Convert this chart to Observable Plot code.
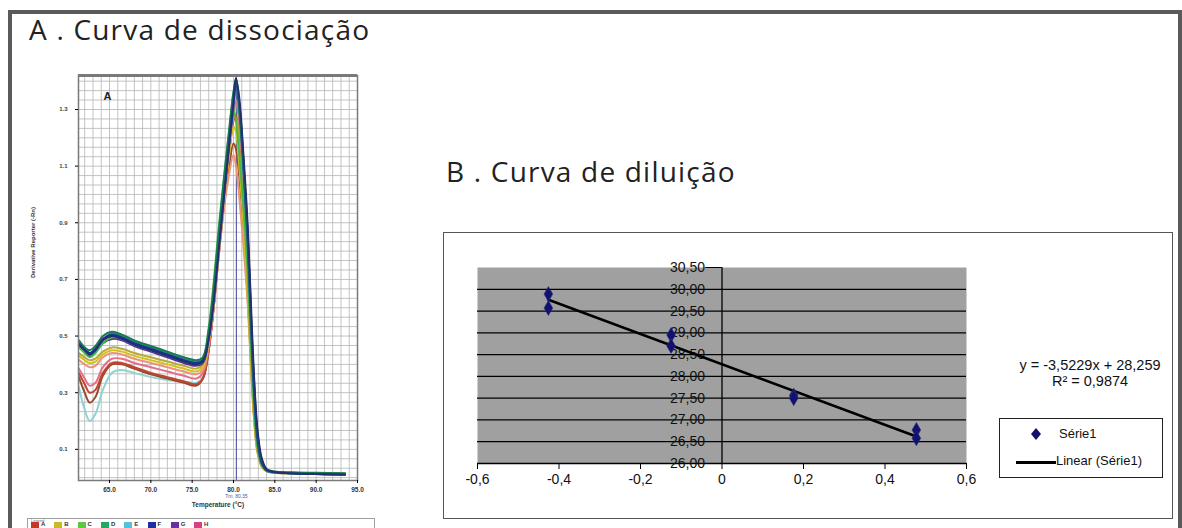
<!DOCTYPE html>
<html><head><meta charset="utf-8">
<script src="https://cdn.jsdelivr.net/npm/d3@7"></script>
<script src="https://cdn.jsdelivr.net/npm/@observablehq/plot@0.6"></script>
<style>
body{margin:0;background:#fff;}
#root{position:relative;width:1182px;height:528px;overflow:hidden;background:#fff;font-family:"Liberation Sans",Arial,sans-serif;}
.abs{position:absolute;}
.title{font-family:"Open Sans",sans-serif;font-size:28px;letter-spacing:1.2px;color:#222;white-space:nowrap;line-height:1;}
</style></head><body><div id="root"></div>
<script>
// ---------- Panel A: dissociation curve data ----------
const titleA = "A . Curva de dissociação";
const titleB = "B . Curva de diluição";
const temps = [61.3, 62.0, 62.6, 63.3, 64.2, 65.3, 66.5, 68, 70, 72, 74, 75.5, 76.3, 77, 77.6, 78.2, 78.8, 79.4, 80.0, 80.3, 80.7, 81.2, 81.7, 82.1, 82.5, 82.9, 83.4, 84, 85, 87, 90, 93.5];
const curveE2 = [0.32,0.24,0.20,0.225,0.31,0.37,0.38,0.37,0.355,0.345,0.34,0.335,0.355, 0.45,0.60,0.79,0.97,1.14,1.29,1.33,1.25,1.05,0.80,0.52,0.27,0.12,0.05,0.025,0.018,0.015,0.013,0.012];
const curveA1 = [0.355,0.30,0.265,0.285,0.36,0.40,0.40,0.385,0.365,0.35,0.335,0.325,0.35, 0.45,0.60,0.78,0.95,1.08,1.18,1.16,1.06,0.88,0.66,0.42,0.22,0.10,0.045,0.025,0.018,0.016,0.014,0.012];
const curveA2 = [0.37,0.33,0.30,0.31,0.37,0.405,0.405,0.39,0.37,0.355,0.34,0.33,0.35, 0.45,0.60,0.79,0.96,1.12,1.26,1.28,1.18,0.98,0.74,0.47,0.24,0.11,0.047,0.025,0.018,0.015,0.013,0.012];
const curveH2 = [0.385,0.35,0.325,0.335,0.39,0.42,0.42,0.405,0.39,0.375,0.36,0.35,0.37, 0.46,0.61,0.80,0.97,1.13,1.28,1.33,1.25,1.05,0.80,0.52,0.27,0.12,0.05,0.025,0.018,0.016,0.014,0.012];
const curveH1 = [0.415,0.40,0.39,0.395,0.425,0.44,0.435,0.42,0.405,0.39,0.375,0.365,0.38, 0.47,0.61,0.78,0.94,1.06,1.14,1.10,0.99,0.82,0.62,0.40,0.21,0.095,0.042,0.024,0.018,0.016,0.014,0.013];
const curveB1 = [0.43,0.415,0.405,0.41,0.435,0.45,0.445,0.43,0.415,0.40,0.385,0.375,0.39, 0.48,0.62,0.80,0.97,1.12,1.24,1.22,1.10,0.90,0.66,0.40,0.20,0.09,0.04,0.022,0.017,0.015,0.013,0.012];
const curveB2 = [0.44,0.425,0.415,0.42,0.445,0.46,0.455,0.44,0.425,0.41,0.395,0.385,0.40, 0.49,0.63,0.81,0.98,1.14,1.27,1.27,1.16,0.95,0.70,0.43,0.21,0.09,0.04,0.022,0.017,0.015,0.013,0.012];
const curveG1 = [0.465,0.445,0.435,0.445,0.475,0.49,0.485,0.465,0.445,0.425,0.405,0.395,0.405, 0.49,0.63,0.81,0.98,1.15,1.31,1.38,1.32,1.12,0.87,0.58,0.32,0.15,0.06,0.028,0.02,0.016,0.013,0.011];
const curveC1 = [0.46,0.44,0.425,0.44,0.475,0.495,0.49,0.47,0.45,0.43,0.415,0.41,0.425, 0.53,0.69,0.88,1.05,1.20,1.30,1.26,1.14,0.96,0.74,0.48,0.25,0.11,0.045,0.024,0.019,0.017,0.016,0.015];
const curveE1 = [0.475,0.45,0.44,0.455,0.49,0.50,0.49,0.47,0.45,0.43,0.41,0.40,0.41, 0.49,0.62,0.80,0.98,1.16,1.32,1.39,1.30,1.10,0.86,0.57,0.31,0.14,0.05,0.025,0.018,0.015,0.013,0.012];
const curveD1 = [0.47,0.45,0.43,0.45,0.485,0.51,0.50,0.48,0.46,0.44,0.42,0.41,0.42, 0.51,0.66,0.84,1.02,1.19,1.36,1.39,1.29,1.08,0.82,0.52,0.27,0.12,0.05,0.026,0.02,0.017,0.015,0.013];
const curveF1 = [0.48,0.455,0.44,0.455,0.49,0.505,0.495,0.475,0.455,0.435,0.415,0.405,0.415, 0.50,0.64,0.82,0.99,1.16,1.33,1.40,1.31,1.10,0.85,0.56,0.30,0.14,0.055,0.026,0.019,0.016,0.013,0.011];
const curveD2 = [0.485,0.46,0.45,0.465,0.50,0.515,0.505,0.485,0.465,0.445,0.425,0.415,0.425, 0.52,0.67,0.86,1.04,1.21,1.36,1.41,1.32,1.12,0.87,0.59,0.33,0.16,0.065,0.03,0.022,0.019,0.017,0.016];
const curveF2 = [0.47,0.45,0.435,0.45,0.485,0.50,0.49,0.47,0.45,0.43,0.41,0.40,0.41, 0.49,0.62,0.80,0.98,1.16,1.33,1.41,1.34,1.14,0.90,0.62,0.35,0.17,0.07,0.03,0.02,0.016,0.013,0.011];
const curveIds = ["E2","A1","A2","H2","H1","B1","B2","G1","C1","E1","D1","F1","D2","F2"];
const curveValues = [curveE2,curveA1,curveA2,curveH2,curveH1,curveB1,curveB2,curveG1,curveC1,curveE1,curveD1,curveF1,curveD2,curveF2];
const legendLetters = ["A","B","C","D","E","F","G","H"];
const tempTicks = [65,70,75,80,85,90,95];
const derivTicks = [0.1,0.3,0.5,0.7,0.9,1.1,1.3];
const tmValue = 80.35;
const tmLabel = "Tm: 80.35";
const xLabelA = "Temperature (°C)";
const yLabelA = "Derivative Reporter (-Rn)";

// ---------- Panel B: dilution curve data ----------
const logDilution = [-0.426,-0.426,-0.125,-0.125,0.176,0.176,0.477,0.477];
const ctValues = [29.89,29.57,28.95,28.70,27.56,27.50,26.77,26.58];
const ctTicks = [26,26.5,27,27.5,28,28.5,29,29.5,30,30.5];
const xTicksB = [-0.6,-0.4,-0.2,0,0.2,0.4,0.6];
const equationText = "y = -3,5229x + 28,259";
const r2Text = "R² = 0,9874";
const seriesName = "Série1";
const trendName = "Linear (Série1)";

// ---------- styles (kept apart from data) ----------
const curveColors = {E2:"#8fd3d3",A1:"#9a4a30",A2:"#c0452e",H2:"#e46f8a",H1:"#eb9478",B1:"#d2c21e",B2:"#b9a83a",G1:"#5a2d91",C1:"#45b84a",E1:"#2a96ac",D1:"#1f9a66",F1:"#1f2f9a",D2:"#1a7a52",F2:"#262d70"};
const legendColors = ["#c0392b","#c8b82a","#5cc83c","#22a860","#55c0d8","#1f2f9f","#6a2fa0","#d8407f"];

const root = document.getElementById("root");
function add(html, style, cls){const d=document.createElement("div");d.className="abs "+(cls||"");d.style.cssText=style;d.innerHTML=html;root.appendChild(d);return d;}

// outer frame
add("", "left:8px;top:10px;width:1166px;height:530px;border:4px solid #5a5a5a;border-bottom:none;");
add(titleA, "left:29px;top:15px;", "title");
add(titleB, "left:446px;top:157px;", "title");

// ---------- Panel A plot ----------
const rows = curveIds.flatMap((id, k) => temps.map((t, i) => ({id, t, v: curveValues[k][i]})));
const plotA = Plot.plot({
  width: 350, height: 460,
  marginLeft: 58, marginRight: 13, marginTop: 15, marginBottom: 40,
  x: {domain: [61.25, 95]},
  y: {domain: [-0.01, 1.42]},
  color: {type: "identity"},
  style: {background: "transparent", fontFamily: "Liberation Sans, Arial, sans-serif", fontSize: "6px", overflow: "visible"},
  marks: [
    Plot.gridX(d3.range(62, 96, 1), {stroke: "#b4b4b4", strokeOpacity: 1, strokeWidth: 0.8}),
    Plot.gridY(d3.range(0, 1.42, 0.2/6), {stroke: "#b4b4b4", strokeOpacity: 1, strokeWidth: 0.8}),
    Plot.ruleX([tmValue], {stroke: "#5a64a8", strokeWidth: 1.2}),
    Plot.line(rows, {x: "t", y: "v", z: "id", stroke: d => curveColors[d.id], strokeWidth: 2, curve: "catmull-rom"}),
    Plot.frame({stroke: "#7a7a7a", strokeWidth: 1.5}),
    Plot.ruleY([1.42], {stroke: "#7a7a7a", strokeWidth: 3}),
    Plot.axisX(tempTicks, {tickFormat: d => d.toFixed(1), tickSize: 3, tickPadding: 4, fontWeight: "bold", fontSize: 6.5, fill: "#333", label: null}),
    Plot.axisY(derivTicks, {tickFormat: d => d.toFixed(1), tickSize: 3, tickPadding: 8, fontWeight: "bold", fontSize: 6, fill: "#444", label: null}),
    Plot.text([tmLabel], {x: tmValue, frameAnchor: "bottom", dy: 17, fill: "#4a5aa8", fontSize: 5}),
    Plot.text([xLabelA], {frameAnchor: "bottom", dy: 26, fontWeight: "bold", fontSize: 6.5, fill: "#333"}),
    Plot.text([yLabelA], {frameAnchor: "left", dx: -45, rotate: -90, fontWeight: "bold", fontSize: 6, fill: "#333"}),
    Plot.text(["A"], {frameAnchor: "top-left", dx: 25, dy: 17, fontWeight: "bold", fontSize: 11, fill: "#222"})
  ]
});
const wrapA = add("", "left:20px;top:60px;");
wrapA.appendChild(plotA);

// legend of panel A
add("", "left:27px;top:518px;width:346px;height:30px;border:1px solid #a0a0a0;background:#fff;");
add("Legend", "left:31px;top:518px;font-size:4px;color:#6a6aa8;");
legendLetters.forEach((L, i) => {
  add("", `left:${31 + i*23.3}px;top:522px;width:8px;height:6px;background:${legendColors[i]};`);
  add(L, `left:${41 + i*23.3}px;top:521px;font-size:6px;font-weight:bold;color:#333;`);
});

// ---------- Panel B ----------
add("", "left:443px;top:232px;width:730px;height:287px;border:1.5px solid #555;box-sizing:border-box;");
const fmt2 = d => d.toFixed(2).replace(".", ",");
const fmt1 = d => d === 0 ? "0" : d.toFixed(1).replace(".", ",");
const ptsB = logDilution.map((x, i) => ({x, y: ctValues[i]}));
const plotB = Plot.plot({
  width: 730, height: 287,
  marginLeft: 34, marginRight: 207, marginTop: 35, marginBottom: 56,
  x: {domain: [-0.6, 0.6]},
  y: {domain: [26, 30.5], axis: null},
  style: {background: "transparent", fontFamily: "Liberation Sans, Arial, sans-serif", fontSize: "14px", overflow: "visible"},
  marks: [
    Plot.frame({fill: "#a0a0a0", stroke: null}),
    Plot.ruleY(ctTicks.filter(d => d < 30.5), {stroke: "#000", strokeWidth: 1.3}),
    Plot.ruleY([30.5], {x1: -0.04, x2: 0, stroke: "#000", strokeWidth: 1}),
    Plot.ruleX([0], {stroke: "#000", strokeWidth: 1.3}),
    Plot.text(ctTicks, {x: 0, y: d => d, text: fmt2, textAnchor: "end", dx: -17, fontSize: 14, fill: "#111"}),
    Plot.axisX(xTicksB, {tickFormat: fmt1, tickSize: 6, tickPadding: 5, fontSize: 14, fill: "#111", label: null}),
    Plot.linearRegressionY(ptsB, {x: "x", y: "y", stroke: "#000", strokeWidth: 2.6, ci: 0}),
    Plot.dot(ptsB, {x: "x", y: "y", symbol: "diamond", r: 4.6, fill: "#12126e", stroke: "#2a2a90", strokeWidth: 0.5})
  ]
});
const wrapB = add("", "left:443px;top:232px;");
wrapB.appendChild(plotB);

// equation and legend of panel B
add(equationText + "<br>" + r2Text, "left:1010px;top:357px;width:160px;text-align:center;font-size:14.5px;line-height:16px;color:#111;");
add("", "left:999px;top:418px;width:164px;height:60px;border:1.5px solid #222;box-sizing:border-box;background:#fff;");
add('<svg width="10" height="12"><path d="M5 0 L10 6 L5 12 L0 6 Z" fill="#12126e"/></svg>', "left:1031px;top:428px;line-height:0;");
add(seriesName, "left:1059px;top:426px;font-size:13px;color:#111;");
add("", "left:1016px;top:461px;width:40px;height:2.5px;background:#000;");
add(trendName, "left:1056px;top:453px;font-size:13px;color:#111;");
</script></body></html>
